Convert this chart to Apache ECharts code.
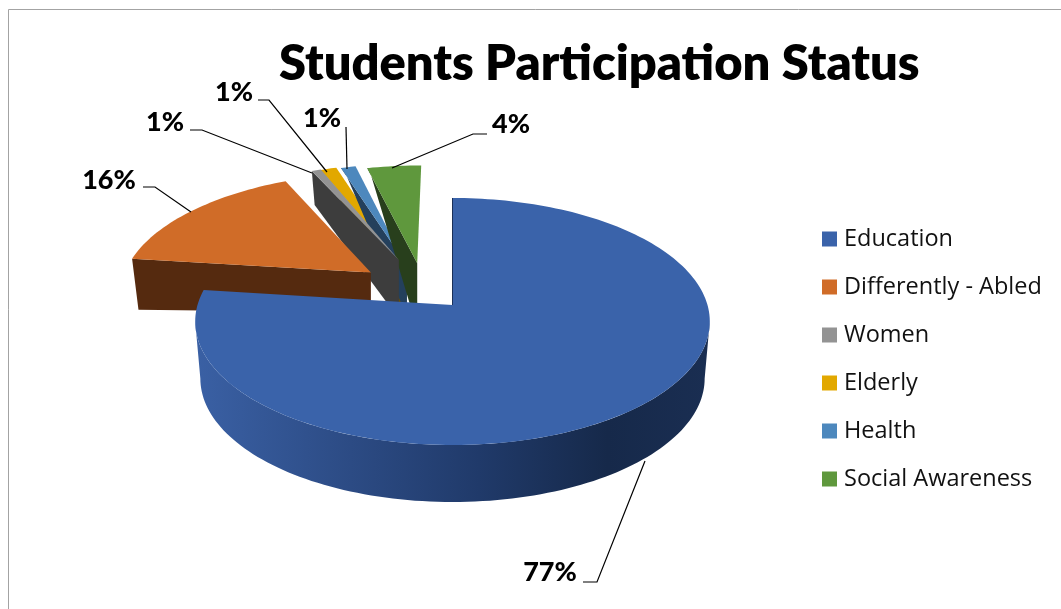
<!DOCTYPE html>
<html><head><meta charset="utf-8">
<style>html,body{margin:0;padding:0;background:#fff}#c{width:1061px;height:609px}</style>
<script src="https://cdn.jsdelivr.net/npm/echarts@6/dist/echarts.min.js"></script>
</head><body><div id="c"></div>
<script>
// ---- data ----
const categories = ['Education','Differently - Abled','Women','Elderly','Health','Social Awareness'];
const values = [77.0, 16.0, 0.7, 1.2, 1.1, 4.0];
const titleText = 'Students Participation Status';

// ---- styles ----
const colors = ['#3a63aa','#d06c28','#939393','#e2a800','#4d88bd','#5f983d'];
const faceColors = ['#1b3058','#552a0f','#3d3d3d','#6a4f00','#24405c','#283f1c'];
const explode = [[0,0],[-0.332,0.277],[-0.2213,0.39],[-0.222,0.385],[-0.2,0.381],[-0.145,0.36]];
const rimDepth = [57,51,34,0,0,0];
const apexDepth = [40,40,44,44,44,42];
const faceExtra = [[0,0],[0,0],[-11,0],[0,3],[-2,3],[-7,0]];
const zOrder = [6,5,4,3,3,3];
const labelPos = [[550,572],[109,180],[165,122],[234,92],[322,118],[511,124]];
const leaders = [
  [[583,582],[597,582],[645,461]],
  [[143,187],[155,187],[191,212]],
  [[190,130],[202,130],[312,173]],
  [[258,100],[269,100],[327,172]],
  [[346,127],[347,169]],
  [[487,134],[473,134],[392,168]]
];
const P = {cx:452.5, cy:305, A:255, B:121.3, k:0.1336, xShrink:0.98};

function project(deg, ex, r){
  const a = deg*Math.PI/180;
  const U = r*Math.sin(a)+ex[0], V = r*Math.cos(a)+ex[1];
  const D = 1+P.k*V;
  return [P.cx+P.A*U/D, P.cy-P.B*V/D];
}
function drop(p, d){ return [P.cx+(p[0]-P.cx)*P.xShrink, p[1]+d]; }
function arc(a0,a1,ex){
  const n = Math.max(2,Math.ceil(Math.abs(a1-a0)/1.5)), out=[];
  for(let i=0;i<=n;i++) out.push(project(a0+(a1-a0)*i/n,ex,1));
  return out;
}
const total = values.reduce((s,v)=>s+v,0);
const starts = []; values.reduce((s,v,i)=>{starts[i]=s;return s+v*360/total;},0);
const silhouette = Math.acos(-P.k)*180/Math.PI;

function renderSlice(i){
  return function(){
    const a0=starts[i], a1=a0+values[i]*360/total, ex=explode[i];
    const apex=project(0,ex,0);
    const rim=arc(a0,a1,ex), kids=[];
    const R=rimDepth[i];
    if(i===0){
      const rimVis=arc(silhouette,360-silhouette,ex);
      const pts=rimVis.concat(rimVis.map(p=>drop(p,R)).reverse());
      kids.push({type:'polygon',shape:{points:pts},style:{fill:new echarts.graphic.LinearGradient(197,0,710,0,[
        {offset:0,color:'#3a60a4'},{offset:0.3,color:'#2c4b84'},{offset:0.55,color:'#203a6a'},{offset:0.8,color:'#16294a'},{offset:1,color:'#1a2e52'}],true)}});
      kids.push({type:'polygon',shape:{points:[apex].concat(rim)},style:{fill:colors[i]}});
      kids.push({type:'polyline',shape:{points:[project(a0,ex,1),apex]},style:{stroke:faceColors[i],lineWidth:1,fill:null}});
    }else{
      const e=rim[0], yb=apex[1]+apexDepth[i], fx=faceExtra[i];
      const face=[e,apex,[apex[0]+fx[1],apex[1]],[apex[0]+fx[1],yb],[apex[0]+fx[0],yb]];
      face.push(drop(e,R));
      kids.push({type:'polygon',shape:{points:face},style:{fill:faceColors[i]}});
      kids.push({type:'polygon',shape:{points:[apex].concat(rim)},style:{fill:colors[i]}});
    }
    kids.push({type:'polyline',z2:20,shape:{points:leaders[i]},style:{stroke:'#000',lineWidth:1.2,fill:null}});
    kids.push({type:'text',z2:20,x:labelPos[i][0],y:labelPos[i][1],style:{text:Math.round(values[i])+'%',
      font:'900 27px Lato',fill:'#000',align:'center',verticalAlign:'middle'}});
    return {type:'group',children:kids};
  };
}

const chart = echarts.init(document.getElementById('c'),null,{renderer:'canvas'});
chart.setOption({
  animation:false,
  backgroundColor:'#fff',
  title:{text:titleText,left:274,top:35,
    textStyle:{fontFamily:'Lato',fontWeight:800,fontSize:48.8,color:'#000'}},
  legend:{orient:'vertical',left:817,top:222,icon:'rect',itemWidth:15,itemHeight:15,itemGap:24,
    selectedMode:false,data:categories,
    textStyle:{fontFamily:'Open Sans',fontSize:23.5,lineHeight:20,color:'#111',padding:[0,0,0,2]}},
  graphic:[{type:'polyline',silent:true,shape:{points:[[8.5,620],[8.5,9.5],[1070,9.5]]},style:{stroke:'#a3a3a3',lineWidth:1,fill:null}}],
  series:categories.map((c,i)=>({
    type:'custom',name:c,coordinateSystem:'none',z:zOrder[i],silent:true,
    itemStyle:{color:colors[i]},
    data:[{value:values[i],name:c}],
    renderItem:renderSlice(i)
  }))
});
</script></body></html>
